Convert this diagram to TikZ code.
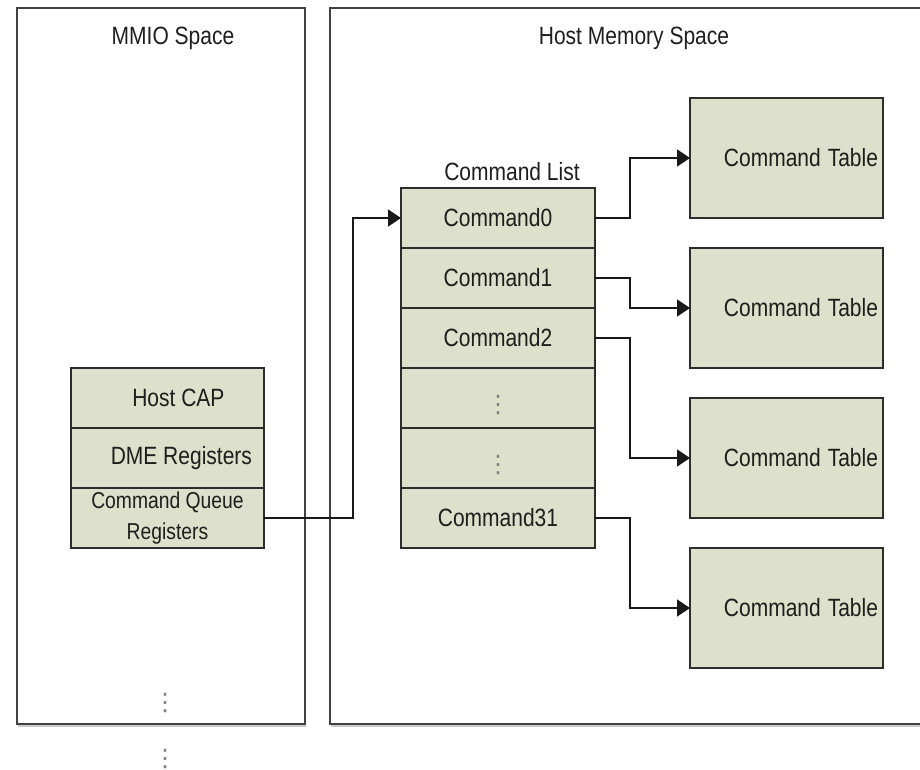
\documentclass[tikz,border=0pt]{standalone}
\usepackage{fontspec}
\setmainfont{Liberation Sans}
\newfontfamily\djv{DejaVu Sans}
\usetikzlibrary{arrows.meta,shadows}
\definecolor{boxfill}{RGB}{221,224,203}
\definecolor{edgecol}{RGB}{45,45,45}
\definecolor{txtcol}{RGB}{30,30,30}
\newcommand{\sqz}[1]{\scalebox{0.84}[1]{#1}}
\newcommand{\lowdots}{\vbox{\kern14pt\hbox{⋮}}}
\begin{document}
\begin{tikzpicture}[x=1pt,y=-1pt,
  bigbox/.style={draw=edgecol!90, line width=1.6pt, fill=white, outer sep=0pt, inner sep=0pt,
    drop shadow={shadow xshift=0.5pt, shadow yshift=-2.5pt, fill=black!35, opacity=0.6}},
  title/.style={font=\fontsize{25}{30}\selectfont, text=txtcol, inner sep=0pt},
  cell/.style={draw=edgecol, line width=1.8pt, fill=boxfill, minimum width=194pt, minimum height=60pt,
    inner sep=0pt, outer sep=0pt, font=\fontsize{25}{30}\selectfont, text=txtcol},
  tbl/.style={cell, minimum width=193pt, minimum height=120pt, text width=183pt, align=right, inner xsep=5pt},
  dotcell/.style={cell, font=\djv\fontsize{24}{24}\selectfont, text=black!50},
  dotnode/.style={font=\djv\fontsize{24}{24}\selectfont, text=black!50, inner sep=0pt},
  conn/.style={line width=1.5pt, draw=black!90},
  arr/.style={conn, -{Triangle[length=13pt,width=17pt]}}]
\useasboundingbox (0,0) rectangle (920,770);
\clip (0,0) rectangle (920,770);

% big regions
\node[bigbox, minimum width=288pt, minimum height=716pt] (mmio) at (161,366) {};
\node[bigbox, minimum width=620pt, minimum height=716pt] (host) at (640,366) {};
\node[title] (mmiot) at (173,38) {\sqz{MMIO Space}};
\node[title] (hostt) at (634,38) {\sqz{Host Memory Space}};

% MMIO register stack
\node[cell, minimum width=193pt] (hcap) at (167.5,398) {\sqz{\hspace*{26pt}Host CAP}};
\node[cell, minimum width=193pt] (dme) at (167.5,458) {\sqz{\hspace*{33pt}DME Registers}};
\node[cell, minimum width=193pt, align=center, font=\fontsize{23}{31}\selectfont] (cqr) at (167.5,518)
  {\sqz{Command Queue}\\\sqz{Registers}};

\node[dotnode] (md1) at (165,703) {⋮};
\node[dotnode] (md2) at (165,759) {⋮};

% command list
\node[title] (clt) at (512,172) {\sqz{Command List}};
\node[cell] (c0) at (498,218) {\sqz{Command0}};
\node[cell] (c1) at (498,278) {\sqz{Command1}};
\node[cell] (c2) at (498,338) {\sqz{Command2}};
\node[dotcell] (c3) at (498,398) {\lowdots};
\node[dotcell] (c4) at (498,458) {\lowdots};
\node[cell] (c5) at (498,518) {\sqz{Command31}};

% command tables
\node[tbl] (t1) at (786.5,158) {\sqz{Command Table}};
\node[tbl] (t2) at (786.5,308) {\sqz{Command Table}};
\node[tbl] (t3) at (786.5,458) {\sqz{Command Table}};
\node[tbl] (t4) at (786.5,608) {\sqz{Command Table}};

% connectors
\draw[arr] (cqr.east) -- ++(89,0) |- (c0.west);
\draw[arr] (c0.east) -- ++(35,0) |- (t1.west);
\draw[arr] (c1.east) -- ++(35,0) |- (t2.west);
\draw[arr] (c2.east) -- ++(35,0) |- (t3.west);
\draw[arr] (c5.east) -- ++(35,0) |- (t4.west);
\end{tikzpicture}
\end{document}
